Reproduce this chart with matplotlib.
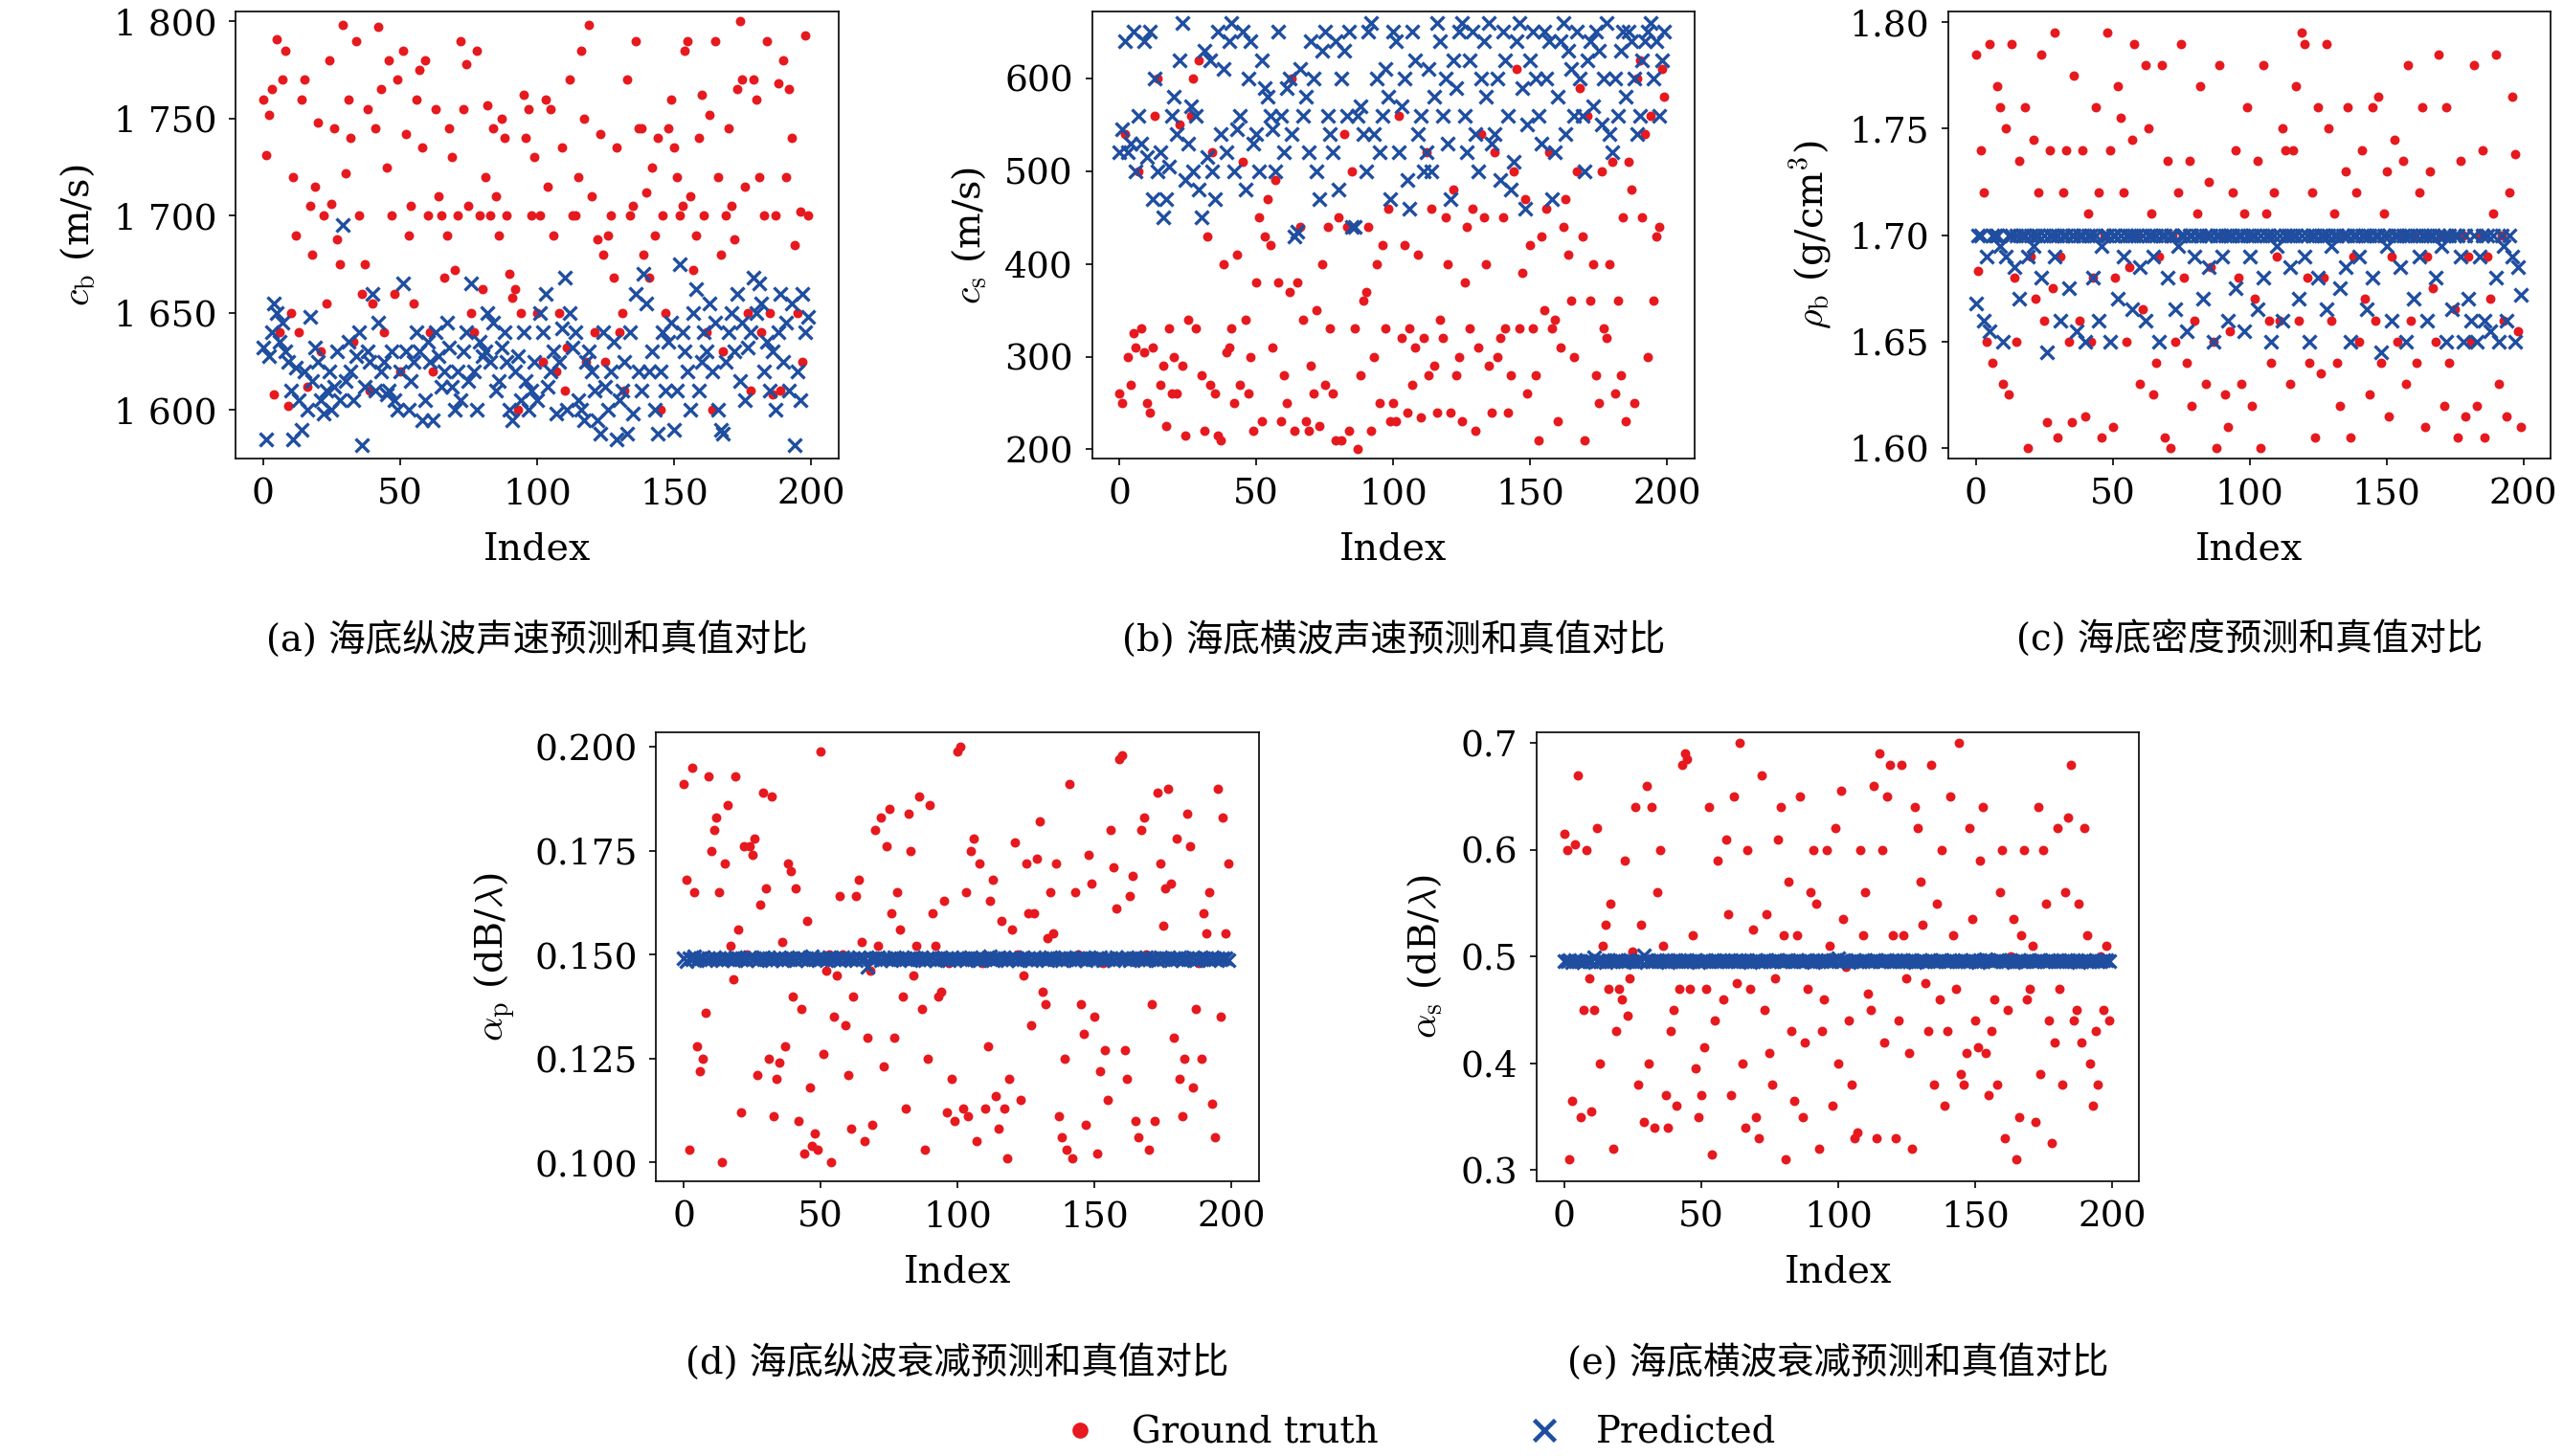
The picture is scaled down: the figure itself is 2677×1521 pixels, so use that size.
import numpy as np
import matplotlib.pyplot as plt

plt.rcParams['font.family'] = ['DejaVu Serif', 'Noto Sans CJK SC']
plt.rcParams['mathtext.fontset'] = 'cm'

# ---- data ----
cb_true = [1760,1731,1752,1765,1608,1791,1640,1770,1785,1602,1650,1720,1690,1640,1760,1770,1612,1705,1680,1715,
           1748,1630,1700,1655,1780,1706,1745,1688,1675,1798,1722,1760,1740,1635,1790,1700,1660,1675,1755,1610,
           1655,1745,1797,1765,1640,1725,1780,1700,1660,1770,1620,1785,1742,1690,1705,1655,1760,1775,1735,1780,
           1700,1640,1620,1755,1710,1700,1668,1690,1745,1730,1672,1700,1790,1755,1778,1705,1650,1640,1785,1700,
           1662,1720,1757,1700,1745,1710,1690,1750,1740,1700,1670,1658,1662,1600,1650,1762,1740,1755,1700,1730,
           1650,1700,1625,1760,1715,1755,1690,1620,1650,1735,1610,1632,1770,1700,1700,1720,1785,1750,1625,1798,
           1710,1640,1688,1742,1680,1625,1690,1700,1668,1735,1640,1650,1610,1770,1700,1705,1790,1745,1745,1680,
           1712,1668,1725,1690,1740,1600,1700,1650,1745,1760,1735,1720,1700,1705,1785,1790,1710,1672,1690,1740,
           1762,1700,1640,1752,1600,1790,1720,1680,1630,1700,1745,1705,1688,1765,1800,1770,1715,1650,1610,1770,
           1760,1720,1640,1700,1790,1650,1608,1700,1768,1610,1780,1720,1765,1740,1685,1650,1702,1625,1793,1700]
cb_pred = [1632,1585,1628,1640,1655,1650,1635,1645,1630,1625,1610,1585,1622,1605,1590,1620,1600,1648,1615,1632,
           1625,1605,1598,1610,1620,1600,1612,1630,1605,1695,1615,1635,1620,1605,1628,1640,1582,1612,1630,1625,
           1660,1610,1645,1620,1625,1608,1610,1630,1605,1600,1620,1665,1630,1600,1615,1625,1640,1630,1595,1605,
           1635,1625,1595,1640,1628,1612,1620,1645,1632,1612,1600,1620,1605,1630,1640,1615,1665,1620,1600,1635,
           1628,1630,1650,1625,1645,1610,1615,1632,1640,1625,1600,1595,1620,1628,1605,1640,1615,1600,1610,1625,
           1605,1650,1640,1660,1612,1620,1630,1598,1625,1642,1668,1600,1650,1632,1640,1605,1600,1595,1625,1630,
           1620,1610,1595,1588,1640,1612,1600,1620,1635,1585,1605,1610,1625,1588,1640,1598,1660,1620,1610,1670,
           1655,1620,1630,1600,1588,1620,1640,1610,1635,1645,1590,1610,1675,1640,1630,1620,1600,1650,1662,1610,
           1625,1640,1630,1655,1620,1645,1600,1590,1588,1625,1640,1650,1630,1660,1615,1645,1605,1632,1640,1668,
           1650,1665,1655,1620,1635,1610,1630,1600,1640,1660,1625,1645,1610,1655,1582,1620,1605,1660,1640,1648]
cs_true = [260,250,540,300,270,325,310,500,330,305,250,240,310,560,600,270,290,225,330,260,
           300,260,550,290,215,340,560,600,330,620,280,220,430,270,520,260,215,210,400,305,
           310,330,250,410,270,510,340,260,300,220,380,450,230,430,470,420,310,490,380,230,
           280,250,370,600,220,380,440,340,230,220,290,260,350,225,400,270,440,330,260,210,
           450,210,540,440,220,500,330,200,280,360,370,440,220,300,400,250,420,330,460,230,
           250,230,560,320,420,240,330,270,310,410,235,320,520,280,460,290,240,340,320,450,
           400,240,480,280,300,230,380,440,330,460,220,310,540,450,400,290,240,520,300,320,
           450,330,240,280,500,610,330,390,470,260,420,330,280,210,430,350,460,520,330,340,
           230,310,440,470,410,360,300,500,590,430,210,560,360,400,280,250,500,330,320,400,
           510,260,360,280,450,230,510,480,250,600,620,450,540,300,560,360,430,440,610,580]
cs_pred = [520,545,640,520,530,650,500,560,530,640,515,650,470,600,500,520,450,470,505,560,
           580,540,620,660,490,530,570,500,560,480,450,630,515,620,500,470,650,540,610,520,
           640,660,500,545,560,650,480,600,640,530,540,500,620,590,580,560,545,500,650,560,
           520,590,600,540,430,435,610,560,580,520,640,600,500,470,630,650,560,540,520,640,
           480,600,630,560,650,440,440,560,570,540,500,650,660,540,600,520,560,610,580,470,
           650,640,520,570,600,490,460,650,620,540,560,500,520,610,500,580,660,640,560,600,
           530,470,620,590,650,660,560,520,620,650,540,500,600,640,580,660,530,540,600,490,
           650,620,560,480,510,640,660,590,460,550,620,650,600,560,530,650,600,640,470,520,
           580,640,660,540,630,610,560,650,600,560,500,620,640,570,650,630,550,600,660,540,
           520,600,560,630,650,580,650,640,600,540,560,620,640,650,660,600,640,560,620,650]
rho_true = [1785,1683,1740,1720,1650,1790,1640,1700,1770,1760,1630,1750,1625,1790,1680,1650,1735,1700,1760,1600,
            1690,1745,1670,1720,1785,1660,1612,1740,1675,1795,1605,1690,1720,1740,1650,1612,1775,1700,1660,1740,
            1615,1710,1650,1680,1760,1720,1605,1700,1795,1740,1610,1680,1770,1755,1720,1650,1685,1745,1790,1700,
            1630,1665,1780,1750,1710,1625,1640,1690,1780,1605,1735,1600,1700,1650,1720,1790,1680,1640,1735,1620,
            1660,1710,1770,1700,1630,1725,1685,1650,1600,1780,1700,1625,1610,1655,1720,1740,1680,1630,1710,1760,
            1700,1620,1670,1735,1600,1780,1710,1660,1640,1720,1690,1660,1750,1740,1700,1630,1740,1770,1660,1795,
            1790,1680,1640,1720,1605,1760,1635,1680,1790,1750,1660,1710,1640,1620,1700,1730,1760,1605,1690,1720,
            1650,1740,1670,1700,1625,1760,1660,1765,1640,1710,1730,1615,1690,1745,1650,1700,1735,1630,1780,1660,
            1700,1640,1720,1760,1610,1690,1730,1675,1650,1785,1700,1620,1760,1640,1700,1665,1605,1735,1700,1615,
            1690,1650,1780,1620,1700,1740,1605,1690,1670,1710,1785,1630,1700,1660,1615,1720,1765,1738,1655,1610]
rho_pred = [1668,1700,1700,1660,1690,1655,1700,1700,1700,1695,1650,1690,1700,1700,1685,1700,1670,1700,1700,1690,
            1700,1695,1700,1700,1680,1700,1645,1700,1700,1690,1700,1660,1700,1700,1675,1700,1700,1655,1700,1700,
            1650,1700,1700,1680,1700,1660,1695,1700,1700,1650,1700,1700,1670,1700,1690,1700,1700,1665,1700,1700,
            1685,1700,1660,1700,1700,1690,1700,1650,1700,1700,1680,1700,1700,1665,1695,1700,1700,1655,1700,1700,
            1690,1700,1700,1670,1700,1685,1700,1650,1700,1700,1690,1700,1660,1700,1700,1675,1700,1700,1655,1700,
            1690,1700,1700,1665,1700,1680,1700,1700,1650,1700,1695,1700,1660,1700,1700,1685,1700,1700,1670,1700,
            1690,1700,1650,1700,1700,1680,1700,1700,1665,1700,1695,1700,1700,1675,1700,1685,1700,1650,1700,1700,
            1690,1700,1700,1665,1700,1680,1700,1700,1645,1700,1695,1700,1660,1700,1700,1685,1700,1650,1700,1700,
            1670,1700,1690,1700,1700,1660,1700,1700,1680,1700,1695,1700,1650,1700,1665,1700,1700,1690,1650,1700,
            1670,1660,1700,1650,1690,1700,1660,1700,1655,1700,1680,1650,1700,1695,1660,1700,1690,1650,1685,1672]
ap_true = [191,168,103,195,165,128,122,125,136,193,175,180,183,165,100,172,186,152,144,193,
           156,112,176,150,176,174,178,121,162,189,166,125,188,111,120,124,153,128,172,170,
           140,166,110,137,102,158,118,104,107,103,199,126,146,150,100,135,145,164,150,133,
           121,108,140,164,168,153,105,130,146,109,180,152,183,123,176,185,160,130,165,156,
           140,113,184,175,145,152,188,137,103,125,186,160,152,140,141,163,112,148,120,110,
           199,200,113,165,111,175,178,105,172,148,113,128,163,168,116,108,158,113,101,120,
           156,177,150,115,145,172,160,133,160,173,182,141,138,154,165,155,172,111,106,125,
           103,191,101,165,150,138,131,109,174,167,135,102,122,148,127,115,180,171,161,197,
           198,127,120,164,169,110,106,180,183,150,103,138,110,189,172,157,166,190,167,130,
           178,120,111,125,184,176,118,137,148,125,160,155,165,114,106,190,135,183,155,172]
ap_pred = [1490,1485,1492,1488,1495,1487,1490,1493,1486,1491,1489,1494,1488,1490,1486,1492,1489,1491,1487,1493,
           1490,1488,1492,1486,1494,1489,1491,1487,1490,1493,1488,1492,1486,1490,1489,1494,1487,1491,1488,1492,
           1490,1486,1493,1489,1491,1487,1490,1495,1488,1492,1489,1491,1486,1493,1490,1488,1492,1487,1494,1489,
           1491,1488,1490,1486,1493,1489,1492,1470,1491,1488,1490,1494,1487,1492,1489,1491,1486,1493,1490,1488,
           1492,1489,1491,1487,1494,1490,1488,1492,1486,1491,1489,1493,1487,1490,1492,1488,1491,1486,1494,1489,
           1490,1488,1492,1487,1491,1493,1489,1490,1486,1492,1488,1491,1495,1487,1490,1493,1489,1492,1486,1491,
           1489,1494,1487,1490,1492,1488,1491,1486,1493,1489,1490,1488,1492,1487,1494,1491,1489,1490,1486,1493,
           1488,1492,1490,1487,1491,1489,1494,1486,1492,1490,1488,1491,1493,1487,1489,1492,1490,1486,1494,1488,
           1491,1489,1493,1487,1490,1492,1488,1491,1486,1494,1489,1490,1492,1487,1493,1488,1491,1490,1486,1492,
           1489,1494,1487,1491,1490,1488,1493,1486,1492,1489,1491,1490,1487,1494,1488,1492,1489,1491,1490,1487]
as_true = [615,600,310,365,605,670,350,450,600,480,355,450,620,400,510,530,470,550,320,430,
           470,460,590,445,480,505,640,380,530,345,660,400,640,340,560,600,510,370,340,430,
           450,360,470,680,690,685,470,520,395,350,370,415,470,640,315,440,590,495,460,610,
           540,370,650,475,700,400,340,600,470,525,350,330,670,450,540,410,380,480,610,640,
           520,310,570,430,365,520,650,350,420,470,560,600,550,320,430,460,600,510,360,620,
           400,655,535,490,440,380,330,335,600,520,560,465,450,660,330,690,600,420,650,680,
           520,330,440,680,520,480,410,320,640,620,570,530,475,430,680,380,550,460,600,360,
           430,650,520,470,700,390,380,410,620,535,440,415,590,640,410,370,430,460,380,560,
           600,330,450,500,535,310,350,520,600,460,470,510,345,640,390,600,550,440,325,420,
           620,470,380,560,630,680,440,450,550,420,620,520,400,360,430,380,500,450,510,440]
as_pred = [4960,4955,4965,4950,4970,4958,4962,4953,4967,4960,4955,4990,4962,4958,4965,4952,4968,4960,4956,4963,
           4970,4958,4962,4955,4965,4960,4953,4968,4961,5010,4957,4964,4960,4955,4967,4962,4958,4965,4953,4960,
           4968,4956,4963,4960,4955,4970,4958,4962,4965,4953,4960,4957,4964,4962,4958,4966,4955,4960,4968,4962,
           4957,4964,4960,4955,4968,4962,4958,4965,4953,4960,4967,4955,4962,4958,4965,4960,4956,4963,4968,4958,
           4962,4955,4965,4960,4957,4970,4958,4962,4955,4966,4960,4953,4968,4962,4958,4965,4960,4955,4963,4968,
           4985,4958,4962,4965,4953,4960,4967,4955,4962,4958,4965,4960,4956,4963,4970,4958,4962,4955,4965,4960,
           4957,4964,4960,4955,4968,4962,4958,4965,4953,4960,4967,4955,4962,4958,4965,4960,4956,4963,4968,4958,
           4962,4955,4965,4960,4957,4970,4958,4962,4955,4966,4960,4953,4968,4962,4980,4965,4960,4955,4963,4968,
           4960,4958,4962,4965,4953,4960,4967,4955,4962,4958,4965,4960,4956,4963,4970,4958,4962,4955,4965,4960,
           4957,4964,4960,4955,4968,4962,4958,4965,4953,4960,4967,4955,4962,4958,4965,4960,4956,4963,4968,4958]

idx = np.arange(len(cb_true))
RED, BLUE = '#e6191e', '#1f4ea0'

panels = [
    ([0.092, 0.685, 0.235, 0.307], np.array(cb_true), np.array(cb_pred), (1575, 1805), [1600,1650,1700,1750,1800],
     lambda v: f"1 {int(v)-1000:03d}", r'$c_{\mathrm{b}}$ (m/s)', '(a) 海底纵波声速预测和真值对比'),
    ([0.426, 0.685, 0.235, 0.307], np.array(cs_true), np.array(cs_pred), (190, 672), [200,300,400,500,600],
     lambda v: f"{int(v)}", r'$c_{\mathrm{s}}$ (m/s)', '(b) 海底横波声速预测和真值对比'),
    ([0.760, 0.685, 0.235, 0.307], np.array(rho_true)/1000, np.array(rho_pred)/1000, (1.595, 1.805), [1.60,1.65,1.70,1.75,1.80],
     lambda v: f"{v:.2f}", r'$\rho_{\mathrm{b}}$ (g/cm$^3$)', '(c) 海底密度预测和真值对比'),
    ([0.256, 0.189, 0.235, 0.308], np.array(ap_true)/1000, np.array(ap_pred)/10000, (0.0955, 0.2035), [0.100,0.125,0.150,0.175,0.200],
     lambda v: f"{v:.3f}", r'$\alpha_{\mathrm{p}}$ (dB/$\lambda$)', '(d) 海底纵波衰减预测和真值对比'),
    ([0.5995, 0.189, 0.235, 0.308], np.array(as_true)/1000, np.array(as_pred)/10000, (0.29, 0.71), [0.3,0.4,0.5,0.6,0.7],
     lambda v: f"{v:.1f}", r'$\alpha_{\mathrm{s}}$ (dB/$\lambda$)', '(e) 海底横波衰减预测和真值对比'),
]

fig = plt.figure(figsize=(17.85, 10.14), dpi=150)
for rect, yt, yp, ylim, yticks, fmt, ylab, cap in panels:
    ax = fig.add_axes(rect)
    ax.scatter(idx, yt, s=14, color=RED, zorder=2)
    ax.scatter(idx, yp, s=45, marker='x', color=BLUE, linewidths=1.6, zorder=3)
    ax.set_xlim(-10, 210); ax.set_ylim(*ylim)
    ax.set_xticks([0, 50, 100, 150, 200])
    ax.set_yticks(yticks); ax.set_yticklabels([fmt(v) for v in yticks])
    ax.tick_params(labelsize=18, direction='out', pad=6)
    ax.set_xlabel('Index', fontsize=19, labelpad=10)
    ax.set_ylabel(ylab, fontsize=19, labelpad=8)
    ax.text(0.5, -0.405, cap, transform=ax.transAxes, ha='center', va='center', fontsize=18.5,
            family=['DejaVu Serif', 'Noto Sans CJK SC'])

h1 = plt.Line2D([], [], ls='', marker='o', ms=7, color=RED)
h2 = plt.Line2D([], [], ls='', marker='x', ms=11, mew=2.2, color=BLUE)
fig.legend([h1, h2], ['Ground truth', 'Predicted'], loc='center', bbox_to_anchor=(0.55, 0.016),
           ncol=2, frameon=False, fontsize=18.5, columnspacing=3.5, handletextpad=0.4)
fig.savefig('out.png', dpi=150)
